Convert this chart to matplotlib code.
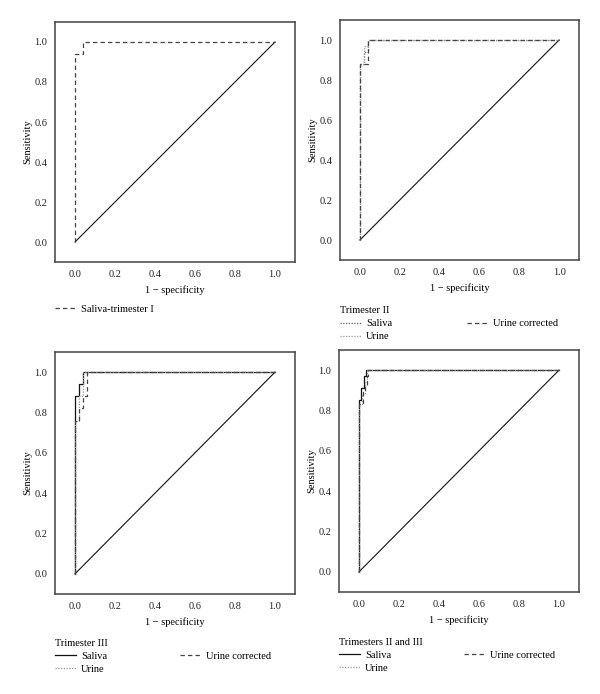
import matplotlib
matplotlib.use("Agg")
import matplotlib.pyplot as plt

plt.rcParams['font.family'] = ['Liberation Serif', 'DejaVu Serif']
plt.rcParams['font.size'] = 7.5

W, H = 600, 694

# ---- data ----
diag_x = [0.0, 1.0]
diag_y = [0.0, 1.0]

# Panel 1: Saliva, trimester I
p1_saliva_x = [0.0, 0.0, 0.04, 0.04, 1.0]
p1_saliva_y = [0.0, 0.94, 0.94, 1.0, 1.0]

# Panel 2: Trimester II
p2_saliva_x = [0.0, 0.0, 0.02, 0.02, 0.04, 0.04, 1.0]
p2_saliva_y = [0.0, 0.88, 0.88, 0.94, 0.94, 1.0, 1.0]
p2_urine_x = [0.0, 0.0, 0.02, 0.02, 0.04, 0.04, 1.0]
p2_urine_y = [0.0, 0.88, 0.88, 0.97, 0.97, 1.0, 1.0]
p2_urinec_x = [0.0, 0.0, 0.04, 0.04, 1.0]
p2_urinec_y = [0.0, 0.88, 0.88, 1.0, 1.0]

# Panel 3: Trimester III
p3_saliva_x = [0.0, 0.0, 0.02, 0.02, 0.04, 0.04, 1.0]
p3_saliva_y = [0.0, 0.88, 0.88, 0.94, 0.94, 1.0, 1.0]
p3_urine_x = [0.0, 0.0, 0.02, 0.02, 0.04, 0.04, 1.0]
p3_urine_y = [0.0, 0.76, 0.76, 0.88, 0.88, 1.0, 1.0]
p3_urinec_x = [0.0, 0.0, 0.02, 0.02, 0.04, 0.04, 0.06, 0.06, 1.0]
p3_urinec_y = [0.0, 0.76, 0.76, 0.82, 0.82, 0.88, 0.88, 1.0, 1.0]

# Panel 4: Trimesters II and III
p4_saliva_x = [0.0, 0.0, 0.01, 0.01, 0.025, 0.025, 0.035, 0.035, 1.0]
p4_saliva_y = [0.0, 0.85, 0.85, 0.91, 0.91, 0.97, 0.97, 1.0, 1.0]
p4_urine_x = [0.0, 0.0, 0.015, 0.015, 0.03, 0.03, 0.04, 0.04, 1.0]
p4_urine_y = [0.0, 0.83, 0.83, 0.88, 0.88, 0.94, 0.94, 1.0, 1.0]
p4_urinec_x = [0.0, 0.0, 0.02, 0.02, 0.03, 0.03, 0.04, 0.04, 0.045, 0.045, 1.0]
p4_urinec_y = [0.0, 0.83, 0.83, 0.89, 0.89, 0.92, 0.92, 0.97, 0.97, 1.0, 1.0]

ticks = [0.0, 0.2, 0.4, 0.6, 0.8, 1.0]
tick_labels = ["0.0", "0.2", "0.4", "0.6", "0.8", "1.0"]

fig = plt.figure(figsize=(W / 100, H / 100), dpi=100)


def make_ax(left, top, right, bottom):
    ax = fig.add_axes([left / W, 1 - bottom / H, (right - left) / W, (bottom - top) / H])
    ax.set_xlim(-0.1, 1.1)
    ax.set_ylim(-0.1, 1.1)
    ax.set_xticks(ticks)
    ax.set_xticklabels(tick_labels)
    ax.set_yticks(ticks)
    ax.set_yticklabels(tick_labels)
    ax.tick_params(axis='x', length=0, pad=6, labelsize=7.5, colors='#222222')
    ax.tick_params(axis='y', length=0, pad=5.5, labelsize=7.5, colors='#222222')
    for s in ax.spines.values():
        s.set_color('#444444')
        s.set_linewidth(1.1)
    ax.set_xlabel("1 \u2212 specificity", fontsize=7.5, labelpad=4)
    ax.set_ylabel("Sensitivity", fontsize=7.5, labelpad=1.5)
    ax.plot(diag_x, diag_y, color='#111111', lw=0.8)
    return ax


DASH = (0, (3.5, 2.5))
DOT = (0, (1, 1.2))

legend_kw = dict(frameon=False, fontsize=7.5, handlelength=2.0, handletextpad=0.5,
                 borderaxespad=0, borderpad=0, labelspacing=0.35, loc='upper left',
                 alignment='left', title_fontsize=7.5)

# Panel 1
ax1 = make_ax(55, 22, 295, 262)
l, = ax1.plot(p1_saliva_x, p1_saliva_y, color='#444444', lw=0.9, ls=DASH,
              label="Saliva-trimester I")
ax1.legend(handles=[l], bbox_to_anchor=(0.0, -0.178), **legend_kw)

# Panel 2
ax2 = make_ax(340, 20, 579, 260)
a, = ax2.plot(p2_saliva_x, p2_saliva_y, color='#666666', lw=0.9, ls=DOT, label="Saliva")
b, = ax2.plot(p2_urine_x, p2_urine_y, color='#999999', lw=0.9, ls=DOT, label="Urine")
c, = ax2.plot(p2_urinec_x, p2_urinec_y, color='#444444', lw=0.9, ls=DASH, label="Urine corrected")
ax2.legend(handles=[a, b, c], ncol=2, columnspacing=7.2, title="Trimester II",
           bbox_to_anchor=(0.0, -0.193), **legend_kw)

# Panel 3
ax3 = make_ax(55, 352, 295, 594)
a, = ax3.plot(p3_saliva_x, p3_saliva_y, color='#111111', lw=0.9, ls='-', label="Saliva")
b, = ax3.plot(p3_urine_x, p3_urine_y, color='#999999', lw=0.9, ls=DOT, label="Urine")
c, = ax3.plot(p3_urinec_x, p3_urinec_y, color='#444444', lw=0.9, ls=DASH, label="Urine corrected")
ax3.legend(handles=[a, b, c], ncol=2, columnspacing=7.0, title="Trimester III",
           bbox_to_anchor=(0.0, -0.185), **legend_kw)

# Panel 4
ax4 = make_ax(339, 350, 579, 592)
a, = ax4.plot(p4_saliva_x, p4_saliva_y, color='#111111', lw=0.9, ls='-', label="Saliva")
b, = ax4.plot(p4_urine_x, p4_urine_y, color='#999999', lw=0.9, ls=DOT, label="Urine")
c, = ax4.plot(p4_urinec_x, p4_urinec_y, color='#444444', lw=0.9, ls=DASH, label="Urine corrected")
ax4.legend(handles=[a, b, c], ncol=2, columnspacing=7.0, title="Trimesters II and III",
           bbox_to_anchor=(0.0, -0.19), **legend_kw)

fig.savefig("out.png", dpi=100)
